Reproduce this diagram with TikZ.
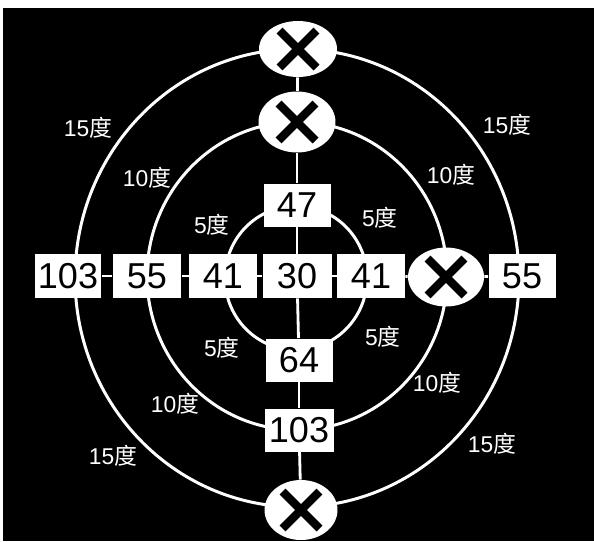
\documentclass[tikz,border=0pt]{standalone}
\usepackage{fontspec}
\setmainfont{Liberation Sans}
\newfontfamily\cjk{Noto Sans CJK SC}
\usetikzlibrary{shapes.geometric}

\begin{document}
\begin{tikzpicture}[x=0.02cm, y=-0.02cm,
    numbox/.style={fill=white, text=black, inner sep=0, minimum width=1.34cm, minimum height=0.88cm, font=\fontsize{20.5}{22}\selectfont},
    crossmark/.style={ellipse, fill=white, inner sep=0, minimum width=1.54cm, minimum height=1.18cm,
        path picture={\draw[black, line width=4.8pt]
            ([shift={(-0.37cm,-0.37cm)}]path picture bounding box.center) -- ([shift={(0.37cm,0.37cm)}]path picture bounding box.center)
            ([shift={(-0.37cm,0.37cm)}]path picture bounding box.center) -- ([shift={(0.37cm,-0.37cm)}]path picture bounding box.center);}},
    ring/.style={white, line width=1.7pt},
    link/.style={white, line width=1.6pt},
    deg/.style={white, inner sep=0, font=\fontsize{13}{15}\selectfont}]
    \useasboundingbox (0,0) rectangle (594,541);
    \fill[white] (0,0) rectangle (594,541);
    \fill[black] (3,8) rectangle (594,541);

    % rings
    \draw[ring] (297,278) ellipse [x radius=4.44cm, y radius=4.58cm];
    \draw[ring] (297,276) ellipse [x radius=3.0cm, y radius=3.08cm];
    \draw[ring] (296,278) ellipse [x radius=1.42cm, y radius=1.44cm];

    % middle row
    \node[numbox] (n103l) at (68,276) {103};
    \node[numbox, minimum width=1.38cm] (n55l) at (147,276) {55};
    \node[numbox, minimum width=1.36cm] (n41l) at (223,276) {41};
    \node[numbox, minimum width=1.38cm] (n30) at (297,276) {30};
    \node[numbox, minimum width=1.36cm] (n41r) at (371,276) {41};
    \node[crossmark, minimum width=1.52cm] (xr) at (446,277) {};
    \node[numbox] (n55r) at (522,276) {55};

    % middle column
    \node[crossmark, minimum width=1.56cm, minimum height=1.12cm] (xtop) at (298,49) {};
    \node[crossmark, minimum height=1.22cm] (xup) at (297,122) {};
    \node[numbox, minimum height=0.86cm] (n47) at (297,205) {47};
    \node[numbox, minimum height=0.86cm] (n64) at (299,360) {64};
    \node[numbox, minimum width=1.38cm, minimum height=0.86cm] (n103b) at (299,430) {103};
    \node[crossmark, minimum width=1.46cm, minimum height=1.2cm] (xbot) at (301,510) {};

    % connectors
    \draw[link] (xtop) -- (xup);
    \draw[link] (xup) -- (n47);
    \draw[link] (n47) -- (n30);
    \draw[link] (n30) -- (n64);
    \draw[link] (n64) -- (n103b);
    \draw[link] (n103b) -- (xbot);
    \draw[link] (n103l) -- (n55l);
    \draw[link] (n55l) -- (n41l);
    \draw[link] (n41l) -- (n30);
    \draw[link] (n30) -- (n41r);
    \draw[link] (n41r) -- (xr);
    \draw[link] (xr) -- (n55r);

    % degree labels
    \node[deg] (d15a) at (88,128) {15{\cjk 度}};
    \node[deg] (d15b) at (507,125) {15{\cjk 度}};
    \node[deg] (d10a) at (147,178) {10{\cjk 度}};
    \node[deg] (d10b) at (451,175) {10{\cjk 度}};
    \node[deg] (d5a) at (212,225) {5{\cjk 度}};
    \node[deg] (d5b) at (380,218) {5{\cjk 度}};
    \node[deg] (d5c) at (222,348) {5{\cjk 度}};
    \node[deg] (d5d) at (383,337) {5{\cjk 度}};
    \node[deg] (d10c) at (175,404) {10{\cjk 度}};
    \node[deg] (d10d) at (437,383) {10{\cjk 度}};
    \node[deg] (d15c) at (113,456) {15{\cjk 度}};
    \node[deg] (d15d) at (492,444) {15{\cjk 度}};
\end{tikzpicture}
\end{document}
